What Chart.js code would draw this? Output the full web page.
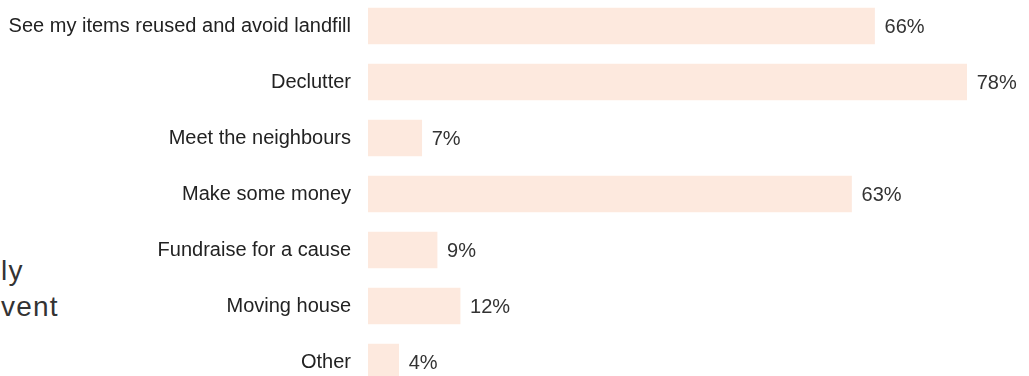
<!DOCTYPE html>
<html>
<head>
<meta charset="utf-8">
<script src="https://cdn.jsdelivr.net/npm/chart.js@4/dist/chart.umd.min.js"></script>
<style>
  html, body { margin: 0; padding: 0; background: #fff; overflow: hidden; }
  body { width: 1029px; height: 376px; position: relative; }
  #title {
    position: absolute; left: 1px; top: 253px;
    font-family: "Liberation Sans", Arial, sans-serif;
    font-size: 28px; line-height: 36px; letter-spacing: 1.2px; color: #333;
  }
  #chart { position: absolute; left: 0; top: -2px; }
</style>
</head>
<body>
<div id="title">ly<br>vent</div>
<canvas id="chart" width="1029" height="392"></canvas>
<script>
const reasons = [
  "See my items reused and avoid landfill",
  "Declutter",
  "Meet the neighbours",
  "Make some money",
  "Fundraise for a cause",
  "Moving house",
  "Other"
];
const shares = [66, 78, 7, 63, 9, 12, 4];

const FONT = '"Liberation Sans", Arial, sans-serif';

// writes "NN%" just past the end of each bar
const valueLabels = {
  id: "valueLabels",
  afterDatasetsDraw(chart) {
    const ctx = chart.ctx;
    const meta = chart.getDatasetMeta(0);
    ctx.save();
    ctx.font = "20px " + FONT;
    ctx.fillStyle = "#333";
    ctx.textAlign = "left";
    ctx.textBaseline = "middle";
    meta.data.forEach((bar, i) => {
      ctx.fillText(shares[i] + "%", bar.x + 10, bar.y + 1);
    });
    ctx.restore();
  }
};

const chart = new Chart(document.getElementById("chart"), {
  type: "bar",
  data: {
    labels: reasons,
    datasets: [{
      data: shares,
      backgroundColor: "#fde9de",
      borderWidth: 0,
      barThickness: 36
    }]
  },
  options: {
    indexAxis: "y",
    responsive: false,
    animation: false,
    layout: { padding: 0 },
    plugins: {
      legend: { display: false },
      tooltip: { enabled: false }
    },
    scales: {
      x: {
        display: false,
        min: 0,
        max: 80,
        afterFit(scale) { scale.height = 0; }
      },
      y: {
        grid: { display: false, drawTicks: false },
        border: { display: false },
        ticks: {
          padding: 17,
          color: "#222",
          font: { family: FONT, size: 20 }
        },
        afterFit(scale) {
          scale.width = 368;
          scale.paddingTop = 0;
          scale.paddingBottom = 0;
        }
      }
    }
  },
  plugins: [valueLabels]
});
// keep the plot right edge so 80% lands at x≈982
chart.options.layout.padding = { left: 0, right: 47, top: 0, bottom: 0 };
chart.update();
</script>
</body>
</html>
